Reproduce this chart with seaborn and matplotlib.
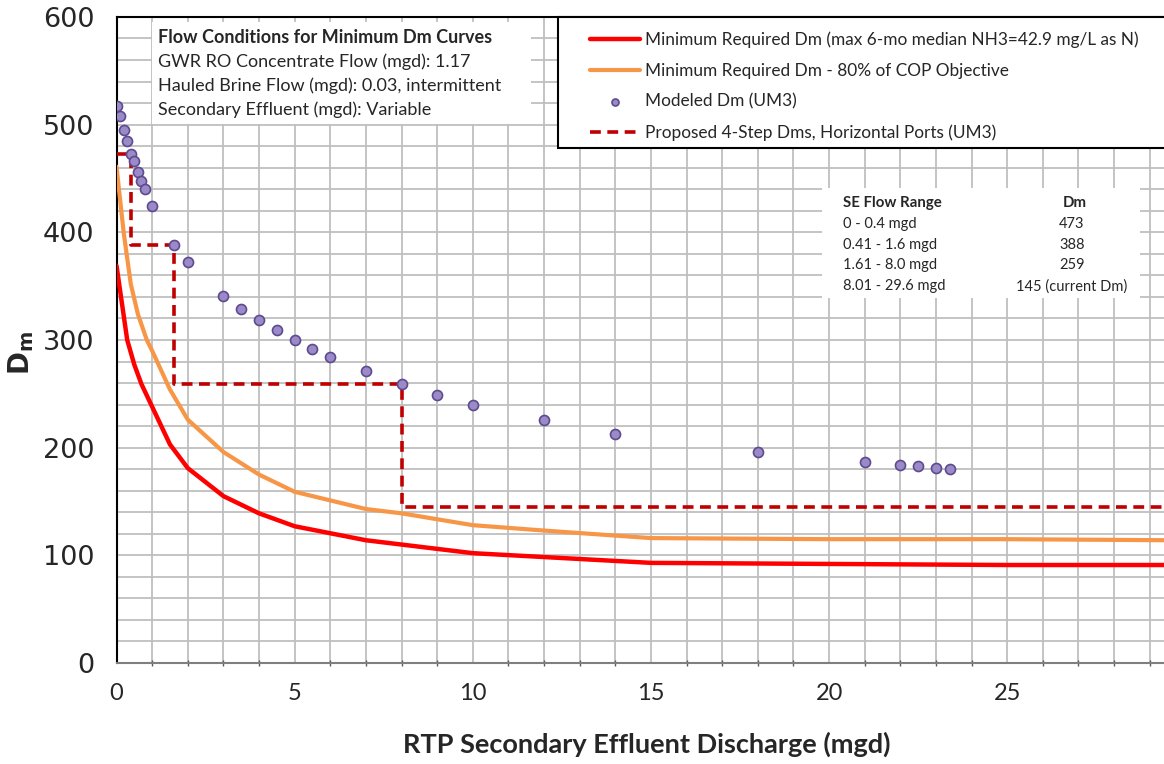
import numpy as np
import pandas as pd
import matplotlib
matplotlib.use('Agg')
import matplotlib.pyplot as plt
from matplotlib.patches import Rectangle
import seaborn as sns

# minimum required Dm curves
curve_x = [0, 0.3, 0.5, 0.7, 1, 1.5, 2, 3, 4, 5, 7, 8, 10, 15, 20, 25, 29.6]
red_dm = [369, 300, 277, 259, 238, 203, 181, 155, 139, 127, 114, 110, 102, 93, 92, 91, 91]
orange_x = [0, 0.2, 0.4, 0.6, 0.85, 1, 1.5, 2, 3, 4, 5, 7, 8, 10, 12, 15, 20, 25, 29.6]
orange_dm = [461, 400, 352, 324, 300, 290, 254, 226, 196, 175, 159, 143, 139, 128, 123, 116, 115, 115, 114]

# modeled Dm (UM3)
model_x = [0, 0.1, 0.2, 0.3, 0.4, 0.5, 0.6, 0.7, 0.8, 1.0, 1.6, 2, 3, 3.5, 4, 4.5, 5, 5.5, 6, 7, 8,
           9, 10, 12, 14, 18, 21, 22, 22.5, 23, 23.4]
model_dm = [517, 508, 495, 485, 473, 466, 456, 448, 440, 424, 388, 372, 341, 329, 319, 309, 300, 292, 284, 271, 259,
            249, 240, 226, 213, 196, 187, 184, 183, 181, 180]

# proposed 4-step Dms
step_x = [0, 0.4, 1.6, 8.0, 29.6]
step_dm = [473, 388, 259, 145, 145]

flow_ranges = ['0 - 0.4 mgd', '0.41 - 1.6 mgd', '1.61 - 8.0 mgd', '8.01 - 29.6 mgd']
range_dm = ['473', '388', '259', '145 (current Dm)']

conditions = ['GWR RO Concentrate Flow (mgd): 1.17',
              'Hauled Brine Flow (mgd): 0.03, intermittent',
              'Secondary Effluent (mgd): Variable']

sns.set_style('white')
plt.rcParams['font.family'] = ['Lato', 'DejaVu Sans']

fig = plt.figure(figsize=(11.64, 7.64), dpi=100)
ax = fig.add_axes([0.1001, 0.1322, 0.8999, 0.8456])

sns.lineplot(x=curve_x, y=red_dm, color='#FF0000', lw=3.2, ax=ax, errorbar=None, zorder=3,
             label='Minimum Required Dm (max 6-mo median NH3=42.9 mg/L as N)')
sns.lineplot(x=orange_x, y=orange_dm, color='#F79646', lw=3, ax=ax, errorbar=None, zorder=3,
             label='Minimum Required Dm - 80% of COP Objective')
sns.scatterplot(x=model_x, y=model_dm, color='#9A8AC8', edgecolor='#5E4A8E', linewidth=1.2, s=52,
                ax=ax, zorder=4, label='Modeled Dm (UM3)')
sns.lineplot(x=step_x, y=step_dm, color='#C00000', lw=2.6, linestyle=(0, (3, 1.8)), drawstyle='steps-post',
             ax=ax, errorbar=None, zorder=3, label='Proposed 4-Step Dms, Horizontal Ports (UM3)')

ax.set_xlim(0, 29.4)
ax.set_ylim(0, 600)
ax.set_xticks(np.arange(0, 30, 5))
ax.set_xticks(np.arange(0, 30, 1), minor=True)
ax.set_yticks(np.arange(0, 601, 100))
ax.set_yticks(np.arange(0, 601, 20), minor=True)
ax.set_axisbelow(True)
ax.grid(which='both', color='#BFBFBF', lw=1.3)

for lbl in ax.get_yticklabels():
    lbl.set_family('DejaVu Sans')
ax.tick_params(axis='y', which='major', labelsize=19.5, direction='out', length=5, width=1.2, pad=11)
ax.tick_params(axis='y', which='minor', length=0)
ax.tick_params(axis='x', which='major', labelsize=17, direction='inout', length=7, width=1, pad=11, color='#595959')
ax.tick_params(axis='x', which='minor', direction='inout', length=5, width=1, color='#595959', bottom=True)

ax.spines['right'].set_visible(False)
ax.spines['top'].set_color('black')
ax.spines['top'].set_linewidth(1.5)
ax.spines['left'].set_color('black')
ax.spines['left'].set_linewidth(1.5)
ax.spines['bottom'].set_color('#7F7F7F')
ax.spines['bottom'].set_linewidth(1.5)

ax.set_xlabel('RTP Secondary Effluent Discharge (mgd)', fontsize=19.5, fontweight='bold')
ax.xaxis.set_label_coords(0.5065, -0.107)
ax.set_ylabel(r'$\mathbf{D_m}$', fontsize=20)
ax.yaxis.set_label_coords(-0.077, 0.48)

# flow-conditions note
ax.add_patch(Rectangle((0.034, 0.834), 0.362, 0.158, transform=ax.transAxes, facecolor='white',
                       edgecolor='none', zorder=1.5))
ax.text(0.0396, 0.9675, 'Flow Conditions for Minimum Dm Curves', transform=ax.transAxes,
        fontsize=13, fontweight='bold', va='center', zorder=5)
for i, line in enumerate(conditions):
    ax.text(0.0396, 0.930 - i * 0.0365, line, transform=ax.transAxes, fontsize=13, va='center', zorder=5)

# step table
ax.add_patch(Rectangle((0.6735, 0.565), 0.3036, 0.170, transform=ax.transAxes, facecolor='white',
                       edgecolor='none', zorder=1.5))
ax.text(0.6936, 0.712, 'SE Flow Range', transform=ax.transAxes, fontsize=10.8, fontweight='bold',
        va='center', zorder=5)
ax.text(0.915, 0.712, 'Dm', transform=ax.transAxes, fontsize=10.8, fontweight='bold',
        va='center', ha='center', zorder=5)
for i, (r, d) in enumerate(zip(flow_ranges, range_dm)):
    yy = 0.6796 - i * 0.0321
    ax.text(0.6936, yy, r, transform=ax.transAxes, fontsize=10.5, va='center', zorder=5)
    ax.text(0.912, yy, d, transform=ax.transAxes, fontsize=10.5, va='center', ha='center', zorder=5)

# legend frame runs past the right edge, as in the source figure
ax.add_patch(Rectangle((0.4215, 0.797), 0.65, 0.2028, transform=ax.transAxes, facecolor='white',
                       edgecolor='black', lw=1.5, zorder=5, clip_on=False))
leg = ax.legend(loc='upper left', bbox_to_anchor=(0.4397, 0.9977), borderaxespad=0, fontsize=12.4,
                frameon=False, handlelength=2.9, labelspacing=0.85, borderpad=0.75,
                handletextpad=0.3, markerscale=0.7)
leg.set_zorder(6)

fig.savefig('out.png', dpi=100)
